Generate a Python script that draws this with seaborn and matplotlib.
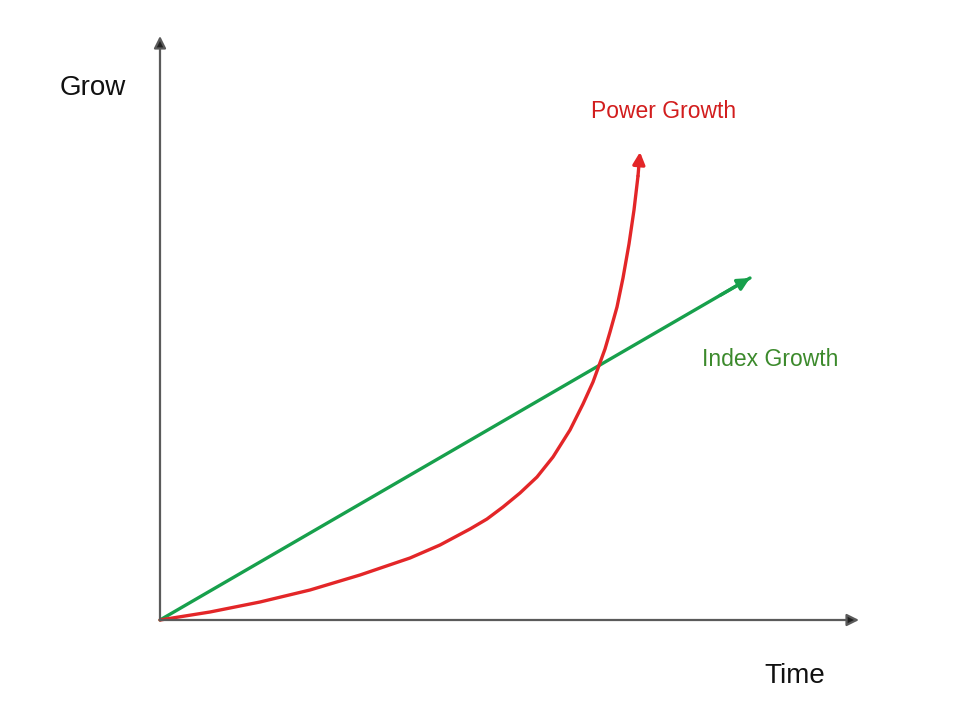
import matplotlib
matplotlib.use("Agg")
import pandas as pd
import matplotlib.pyplot as plt
import seaborn as sns

# data (time / growth units, origin at the axes corner)
power_time = [0, 0.5, 1.0, 1.5, 2.0, 2.5, 2.8, 3.1, 3.27, 3.43, 3.6, 3.77, 3.93, 4.10, 4.23,
              4.33, 4.45, 4.50, 4.57, 4.63, 4.69, 4.74, 4.78]
power_grow = [0, 0.08, 0.18, 0.30, 0.45, 0.62, 0.75, 0.91, 1.01, 1.13, 1.27, 1.43, 1.63, 1.90, 2.16,
              2.38, 2.71, 2.88, 3.13, 3.42, 3.76, 4.10, 4.44]
index_time = [0, 5.9]
index_grow = [0, 3.42]

power = pd.DataFrame({"time": power_time, "grow": power_grow})
index = pd.DataFrame({"time": index_time, "grow": index_grow})

red_line = "#e32628"
red_text = "#d21d1d"
green_line = "#17a04c"
green_text = "#3c8a2c"

sns.set_style("white")
plt.rcParams["font.family"] = ["Liberation Sans", "DejaVu Sans"]

fig = plt.figure(figsize=(9.6, 7.2), dpi=100)
ax = fig.add_axes([0, 0, 1, 1])
ax.set_xlim(-1.6, 8.0)
ax.set_ylim(-1.0, 6.2)
ax.axis("off")

# axes with arrows
for end in [(6.99, 0), (0, 5.84)]:
    ax.annotate("", xy=end, xytext=(0, 0),
                arrowprops=dict(arrowstyle="-|>", ec="#5a5a5a", fc="#222222", lw=1.6,
                                mutation_scale=18, shrinkA=0, shrinkB=0))

# growth curves
sns.lineplot(data=index, x="time", y="grow", color=green_line, lw=2.4, ax=ax,
             sort=False, estimator=None, solid_capstyle="round")
sns.lineplot(data=power, x="time", y="grow", color=red_line, lw=2.4, ax=ax,
             sort=False, estimator=None, solid_joinstyle="round", solid_capstyle="round")

# arrowheads at the ends of the curves
ax.annotate("", xy=(index_time[-1], index_grow[-1]),
            xytext=(index_time[-1] - 0.3, index_grow[-1] - 0.174),
            arrowprops=dict(arrowstyle="-|>", color=green_line, lw=2.4,
                            mutation_scale=18, shrinkA=0, shrinkB=0))
ax.annotate("", xy=(4.80, 4.68), xytext=(power_time[-1], power_grow[-1]),
            arrowprops=dict(arrowstyle="-|>", color=red_line, lw=2.4,
                            mutation_scale=18, shrinkA=0, shrinkB=0))

# labels
ax.text(-0.67, 5.32, "Grow", fontsize=20, ha="center", va="center", color="#111111")
ax.text(6.35, -0.56, "Time", fontsize=20, ha="center", va="center", color="#111111")
ax.text(5.04, 5.08, "Power Growth", fontsize=16.5, ha="center", va="center", color=red_text)
ax.text(6.10, 2.61, "Index Growth", fontsize=16.5, ha="center", va="center", color=green_text)

fig.savefig("out.png", dpi=100)
